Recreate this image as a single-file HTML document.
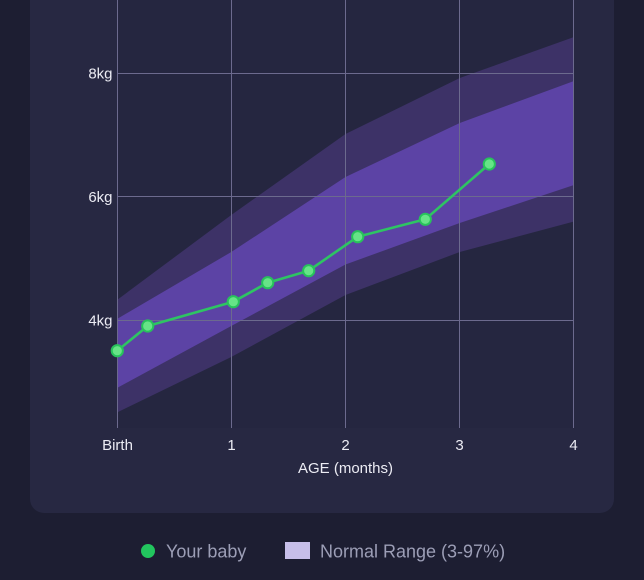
<!DOCTYPE html>
<html>
<head>
<meta charset="utf-8">
<style>
  html,body{margin:0;padding:0;background:#1d1e32;}
  svg{display:block;}
  text{font-family:"Liberation Sans", Arial, sans-serif;}
</style>
</head>
<body>
<svg width="644" height="580" viewBox="0 0 644 580" xmlns="http://www.w3.org/2000/svg">
  <rect x="0" y="0" width="644" height="580" fill="#1d1e32"/>
  <!-- card -->
  <rect x="30" y="-30" width="584" height="543" rx="14" ry="14" fill="#272842"/>
  <!-- plot area -->
  <rect x="117" y="0" width="457" height="428" fill="#252640"/>

  <defs>
    <clipPath id="plot"><rect x="117" y="0" width="457" height="428"/></clipPath>
  </defs>
  <g clip-path="url(#plot)">
    <!-- outer band 3-97 -->
    <polygon fill="#3d3267" points="117,300 231.25,215 345.5,134 459.75,78 574,37 574,221.5 459.75,252 345.5,295 231.25,357 117,412.5"/>
    <!-- inner band 15-85 -->
    <polygon fill="#5c43a5" points="117,319 231.25,252 345.5,177 459.75,123 574,81 574,185 459.75,223 345.5,264.5 231.25,326 117,388"/>
  </g>

  <!-- grid -->
  <g stroke="#6c6a8e" stroke-width="1" fill="none">
    <line x1="117.5" y1="0" x2="117.5" y2="428"/>
    <line x1="231.5" y1="0" x2="231.5" y2="428"/>
    <line x1="345.5" y1="0" x2="345.5" y2="428"/>
    <line x1="459.5" y1="0" x2="459.5" y2="428"/>
    <line x1="573.5" y1="0" x2="573.5" y2="428"/>
    <line x1="117" y1="73.5" x2="574" y2="73.5"/>
    <line x1="117" y1="196.5" x2="574" y2="196.5"/>
    <line x1="117" y1="320.5" x2="574" y2="320.5"/>
  </g>

  <!-- y labels -->
  <g fill="#ececf4" font-size="15" text-anchor="end">
    <text x="112.5" y="78.5">8kg</text>
    <text x="112.5" y="202">6kg</text>
    <text x="112.5" y="325.5">4kg</text>
  </g>
  <!-- x labels -->
  <g fill="#ececf4" font-size="15" text-anchor="middle">
    <text x="117.5" y="450">Birth</text>
    <text x="231.5" y="450">1</text>
    <text x="345.5" y="450">2</text>
    <text x="459.5" y="450">3</text>
    <text x="573.5" y="450">4</text>
    <text x="345.5" y="473">AGE (months)</text>
  </g>

  <!-- baby series -->
  <polyline fill="none" stroke="#2ec463" stroke-width="2.6" stroke-linejoin="round"
    points="117.3,350.7 147.7,326 233.3,301.7 267.7,282.7 308.7,270.7 357.7,236.7 425.3,219.3 489.3,164"/>
  <g fill="#66e487" stroke="#28c25c" stroke-width="2">
    <circle cx="117.3" cy="350.7" r="5.6"/>
    <circle cx="147.7" cy="326" r="5.6"/>
    <circle cx="233.3" cy="301.7" r="5.6"/>
    <circle cx="267.7" cy="282.7" r="5.6"/>
    <circle cx="308.7" cy="270.7" r="5.6"/>
    <circle cx="357.7" cy="236.7" r="5.6"/>
    <circle cx="425.3" cy="219.3" r="5.6"/>
    <circle cx="489.3" cy="164" r="5.6"/>
  </g>

  <!-- legend -->
  <circle cx="148" cy="551" r="7" fill="#22c55e"/>
  <text x="166" y="557.5" font-size="18" fill="#9c9eb6">Your baby</text>
  <rect x="285" y="542" width="25" height="17" fill="#c7bfe9"/>
  <text x="320" y="557.5" font-size="18" fill="#9c9eb6">Normal Range (3-97%)</text>
</svg>
</body>
</html>
